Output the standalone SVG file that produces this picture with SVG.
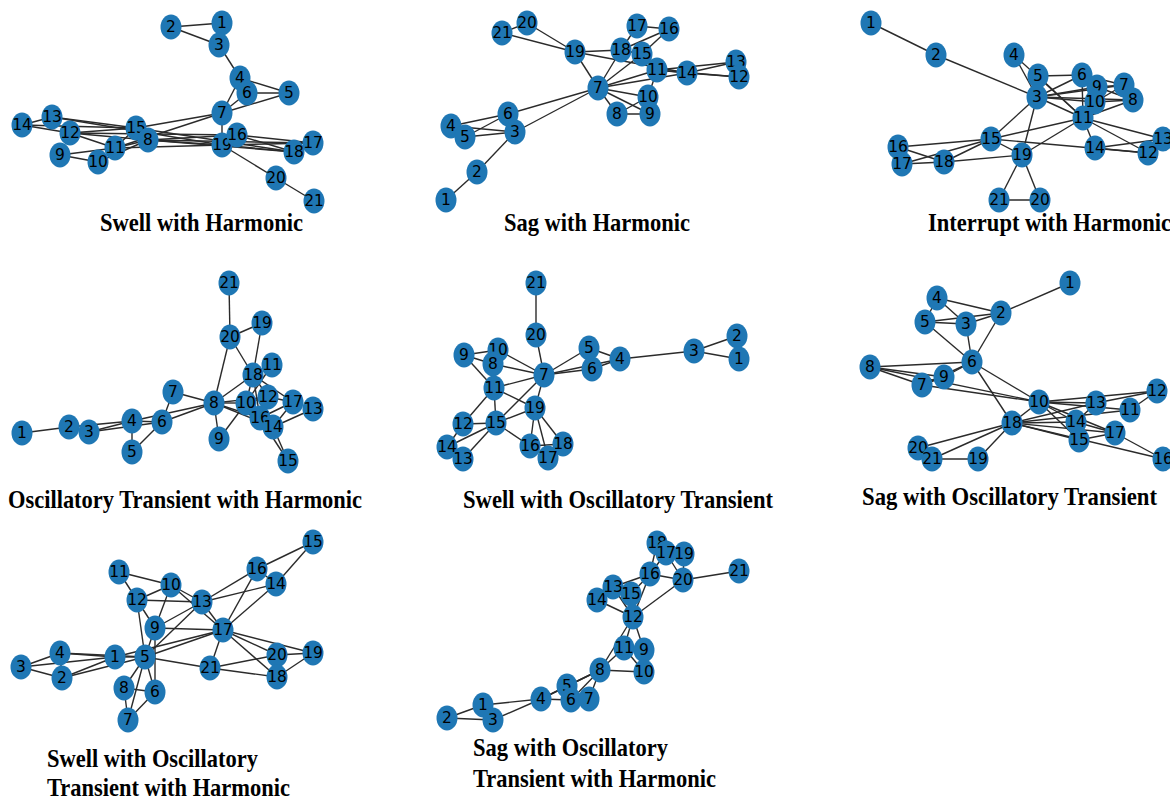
<svg xmlns="http://www.w3.org/2000/svg" width="1170" height="798" viewBox="0 0 1170 798">
<style>
  .edges line { stroke: #2b2b2b; stroke-width: 1.4; }
  .node ellipse { fill: #1f77b4; }
  .node text { font-family: "DejaVu Sans", sans-serif; font-size: 15.5px; fill: #000; text-anchor: middle; dominant-baseline: central; }
  .caption { font-family: "Liberation Serif", "Times New Roman", serif; font-weight: bold; font-size: 26px; fill: #000; }
</style>
<rect width="1170" height="798" fill="#fff"/>

<!-- ===== Swell with Harmonic ===== -->
<g id="swell-harmonic">
<g class="edges">
<line x1="222" y1="23" x2="171" y2="27"/><line x1="171" y1="27" x2="219" y2="45"/><line x1="222" y1="23" x2="219" y2="45"/>
<line x1="219" y1="45" x2="240" y2="78"/><line x1="240" y1="78" x2="289" y2="93"/><line x1="240" y1="78" x2="247" y2="93"/>
<line x1="247" y1="93" x2="289" y2="93"/><line x1="240" y1="78" x2="222" y2="113"/><line x1="247" y1="93" x2="222" y2="113"/>
<line x1="289" y1="93" x2="222" y2="113"/><line x1="222" y1="113" x2="136" y2="128"/><line x1="222" y1="113" x2="115" y2="148"/>
<line x1="222" y1="113" x2="222" y2="145"/><line x1="22" y1="125" x2="52" y2="117"/><line x1="22" y1="125" x2="70" y2="133"/>
<line x1="22" y1="125" x2="136" y2="128"/><line x1="52" y1="117" x2="136" y2="128"/><line x1="52" y1="117" x2="222" y2="145"/>
<line x1="70" y1="133" x2="237" y2="135"/><line x1="70" y1="133" x2="148" y2="140"/><line x1="70" y1="133" x2="115" y2="148"/>
<line x1="70" y1="133" x2="136" y2="128"/><line x1="60" y1="155" x2="115" y2="148"/><line x1="60" y1="155" x2="98" y2="162"/>
<line x1="98" y1="162" x2="148" y2="140"/><line x1="115" y1="148" x2="136" y2="128"/><line x1="115" y1="148" x2="148" y2="140"/>
<line x1="115" y1="148" x2="222" y2="145"/><line x1="136" y1="128" x2="148" y2="140"/><line x1="136" y1="128" x2="294" y2="152"/>
<line x1="148" y1="140" x2="222" y2="145"/><line x1="148" y1="140" x2="237" y2="135"/><line x1="148" y1="140" x2="313" y2="143"/>
<line x1="148" y1="140" x2="294" y2="152"/><line x1="237" y1="135" x2="313" y2="143"/><line x1="237" y1="135" x2="294" y2="152"/>
<line x1="237" y1="135" x2="222" y2="145"/><line x1="222" y1="145" x2="294" y2="152"/><line x1="222" y1="145" x2="313" y2="143"/>
<line x1="222" y1="145" x2="276" y2="178"/><line x1="276" y1="178" x2="314" y2="201"/>
</g>
<g id="g1-n1" class="node"><ellipse cx="222" cy="23" rx="10.5" ry="12.5"/><text x="222" y="23">1</text></g>
<g id="g1-n2" class="node"><ellipse cx="171" cy="27" rx="10.5" ry="12.5"/><text x="171" y="27">2</text></g>
<g id="g1-n3" class="node"><ellipse cx="219" cy="45" rx="10.5" ry="12.5"/><text x="219" y="45">3</text></g>
<g id="g1-n4" class="node"><ellipse cx="240" cy="78" rx="10.5" ry="12.5"/><text x="240" y="78">4</text></g>
<g id="g1-n5" class="node"><ellipse cx="289" cy="93" rx="10.5" ry="12.5"/><text x="289" y="93">5</text></g>
<g id="g1-n6" class="node"><ellipse cx="247" cy="93" rx="10.5" ry="12.5"/><text x="247" y="93">6</text></g>
<g id="g1-n7" class="node"><ellipse cx="222" cy="113" rx="10.5" ry="12.5"/><text x="222" y="113">7</text></g>
<g id="g1-n9" class="node"><ellipse cx="60" cy="155" rx="10.5" ry="12.5"/><text x="60" y="155">9</text></g>
<g id="g1-n10" class="node"><ellipse cx="98" cy="162" rx="10.5" ry="12.5"/><text x="98" y="162">10</text></g>
<g id="g1-n11" class="node"><ellipse cx="115" cy="148" rx="10.5" ry="12.5"/><text x="115" y="148">11</text></g>
<g id="g1-n13" class="node"><ellipse cx="52" cy="117" rx="10.5" ry="12.5"/><text x="52" y="117">13</text></g>
<g id="g1-n14" class="node"><ellipse cx="22" cy="125" rx="10.5" ry="12.5"/><text x="22" y="125">14</text></g>
<g id="g1-n12" class="node"><ellipse cx="70" cy="133" rx="10.5" ry="12.5"/><text x="70" y="133">12</text></g>
<g id="g1-n15" class="node"><ellipse cx="136" cy="128" rx="10.5" ry="12.5"/><text x="136" y="128">15</text></g>
<g id="g1-n8" class="node"><ellipse cx="148" cy="140" rx="10.5" ry="12.5"/><text x="148" y="140">8</text></g>
<g id="g1-n17" class="node"><ellipse cx="313" cy="143" rx="10.5" ry="12.5"/><text x="313" y="143">17</text></g>
<g id="g1-n18" class="node"><ellipse cx="294" cy="152" rx="10.5" ry="12.5"/><text x="294" y="152">18</text></g>
<g id="g1-n19" class="node"><ellipse cx="222" cy="145" rx="10.5" ry="12.5"/><text x="222" y="145">19</text></g>
<g id="g1-n16" class="node"><ellipse cx="237" cy="135" rx="10.5" ry="12.5"/><text x="237" y="135">16</text></g>
<g id="g1-n20" class="node"><ellipse cx="276" cy="178" rx="10.5" ry="12.5"/><text x="276" y="178">20</text></g>
<g id="g1-n21" class="node"><ellipse cx="314" cy="201" rx="10.5" ry="12.5"/><text x="314" y="201">21</text></g>
<text class="caption" x="100" y="231" textLength="203" lengthAdjust="spacingAndGlyphs">Swell with Harmonic</text>
</g>

<!-- ===== Sag with Harmonic ===== -->
<g id="sag-harmonic">
<g class="edges">
<line x1="446" y1="200" x2="477" y2="172"/><line x1="477" y1="172" x2="515" y2="132"/><line x1="515" y1="132" x2="508" y2="114"/>
<line x1="515" y1="132" x2="451" y2="126"/><line x1="515" y1="132" x2="465" y2="137"/><line x1="451" y1="126" x2="508" y2="114"/>
<line x1="465" y1="137" x2="508" y2="114"/><line x1="508" y1="114" x2="598" y2="88"/><line x1="515" y1="132" x2="598" y2="88"/>
<line x1="598" y1="88" x2="575" y2="52"/><line x1="598" y1="88" x2="621" y2="50"/><line x1="598" y1="88" x2="642" y2="54"/>
<line x1="598" y1="88" x2="657" y2="70"/><line x1="598" y1="88" x2="687" y2="73"/><line x1="598" y1="88" x2="648" y2="97"/>
<line x1="598" y1="88" x2="650" y2="114"/><line x1="598" y1="88" x2="617" y2="114"/><line x1="617" y1="114" x2="650" y2="114"/>
<line x1="617" y1="114" x2="648" y2="97"/><line x1="648" y1="97" x2="657" y2="70"/><line x1="575" y1="52" x2="527" y2="23"/>
<line x1="575" y1="52" x2="502" y2="33"/><line x1="527" y1="23" x2="502" y2="33"/><line x1="575" y1="52" x2="621" y2="50"/>
<line x1="575" y1="52" x2="687" y2="73"/><line x1="621" y1="50" x2="637" y2="26"/><line x1="621" y1="50" x2="669" y2="29"/>
<line x1="621" y1="50" x2="642" y2="54"/><line x1="637" y1="26" x2="669" y2="29"/><line x1="642" y1="54" x2="669" y2="29"/>
<line x1="642" y1="54" x2="657" y2="70"/><line x1="657" y1="70" x2="687" y2="73"/><line x1="687" y1="73" x2="736" y2="62"/>
<line x1="687" y1="73" x2="739" y2="77"/><line x1="657" y1="70" x2="736" y2="62"/><line x1="657" y1="70" x2="739" y2="77"/>
<line x1="736" y1="62" x2="739" y2="77"/>
</g>
<g id="g2-n1" class="node"><ellipse cx="446" cy="200" rx="10.5" ry="12.5"/><text x="446" y="200">1</text></g>
<g id="g2-n2" class="node"><ellipse cx="477" cy="172" rx="10.5" ry="12.5"/><text x="477" y="172">2</text></g>
<g id="g2-n4" class="node"><ellipse cx="451" cy="126" rx="10.5" ry="12.5"/><text x="451" y="126">4</text></g>
<g id="g2-n5" class="node"><ellipse cx="465" cy="137" rx="10.5" ry="12.5"/><text x="465" y="137">5</text></g>
<g id="g2-n6" class="node"><ellipse cx="508" cy="114" rx="10.5" ry="12.5"/><text x="508" y="114">6</text></g>
<g id="g2-n3" class="node"><ellipse cx="515" cy="132" rx="10.5" ry="12.5"/><text x="515" y="132">3</text></g>
<g id="g2-n7" class="node"><ellipse cx="598" cy="88" rx="10.5" ry="12.5"/><text x="598" y="88">7</text></g>
<g id="g2-n8" class="node"><ellipse cx="617" cy="114" rx="10.5" ry="12.5"/><text x="617" y="114">8</text></g>
<g id="g2-n10" class="node"><ellipse cx="648" cy="97" rx="10.5" ry="12.5"/><text x="648" y="97">10</text></g>
<g id="g2-n9" class="node"><ellipse cx="650" cy="114" rx="10.5" ry="12.5"/><text x="650" y="114">9</text></g>
<g id="g2-n20" class="node"><ellipse cx="527" cy="23" rx="10.5" ry="12.5"/><text x="527" y="23">20</text></g>
<g id="g2-n21" class="node"><ellipse cx="502" cy="33" rx="10.5" ry="12.5"/><text x="502" y="33">21</text></g>
<g id="g2-n19" class="node"><ellipse cx="575" cy="52" rx="10.5" ry="12.5"/><text x="575" y="52">19</text></g>
<g id="g2-n17" class="node"><ellipse cx="637" cy="26" rx="10.5" ry="12.5"/><text x="637" y="26">17</text></g>
<g id="g2-n16" class="node"><ellipse cx="669" cy="29" rx="10.5" ry="12.5"/><text x="669" y="29">16</text></g>
<g id="g2-n18" class="node"><ellipse cx="621" cy="50" rx="10.5" ry="12.5"/><text x="621" y="50">18</text></g>
<g id="g2-n15" class="node"><ellipse cx="642" cy="54" rx="10.5" ry="12.5"/><text x="642" y="54">15</text></g>
<g id="g2-n11" class="node"><ellipse cx="657" cy="70" rx="10.5" ry="12.5"/><text x="657" y="70">11</text></g>
<g id="g2-n14" class="node"><ellipse cx="687" cy="73" rx="10.5" ry="12.5"/><text x="687" y="73">14</text></g>
<g id="g2-n13" class="node"><ellipse cx="736" cy="62" rx="10.5" ry="12.5"/><text x="736" y="62">13</text></g>
<g id="g2-n12" class="node"><ellipse cx="739" cy="77" rx="10.5" ry="12.5"/><text x="739" y="77">12</text></g>
<text class="caption" x="504" y="231" textLength="186" lengthAdjust="spacingAndGlyphs">Sag with Harmonic</text>
</g>

<!-- ===== Interrupt with Harmonic ===== -->
<g id="interrupt-harmonic">
<g class="edges">
<line x1="871" y1="23" x2="936" y2="55"/><line x1="936" y1="55" x2="1037" y2="97"/><line x1="1014" y1="55" x2="1037" y2="97"/>
<line x1="1014" y1="55" x2="1083" y2="118"/><line x1="1038" y1="76" x2="1037" y2="97"/><line x1="1038" y1="76" x2="1082" y2="75"/>
<line x1="1038" y1="76" x2="1083" y2="118"/><line x1="1037" y1="97" x2="1082" y2="75"/><line x1="1037" y1="97" x2="1097" y2="87"/>
<line x1="1037" y1="97" x2="1124" y2="85"/><line x1="1037" y1="97" x2="1095" y2="102"/><line x1="1037" y1="97" x2="1133" y2="100"/>
<line x1="1037" y1="97" x2="1083" y2="118"/><line x1="1037" y1="97" x2="991" y2="139"/><line x1="1037" y1="97" x2="1022" y2="155"/>
<line x1="1082" y1="75" x2="1097" y2="87"/><line x1="1082" y1="75" x2="1124" y2="85"/><line x1="1082" y1="75" x2="1083" y2="118"/>
<line x1="1097" y1="87" x2="1124" y2="85"/><line x1="1097" y1="87" x2="1133" y2="100"/><line x1="1095" y1="102" x2="1124" y2="85"/>
<line x1="1095" y1="102" x2="1133" y2="100"/><line x1="1083" y1="118" x2="1133" y2="100"/><line x1="1083" y1="118" x2="991" y2="139"/>
<line x1="1083" y1="118" x2="1022" y2="155"/><line x1="1083" y1="118" x2="1095" y2="148"/><line x1="1083" y1="118" x2="1163" y2="139"/>
<line x1="1083" y1="118" x2="1148" y2="153"/><line x1="991" y1="139" x2="898" y2="147"/><line x1="991" y1="139" x2="902" y2="164"/>
<line x1="991" y1="139" x2="944" y2="162"/><line x1="991" y1="139" x2="1022" y2="155"/><line x1="991" y1="139" x2="1148" y2="153"/>
<line x1="1095" y1="148" x2="1163" y2="139"/><line x1="1095" y1="148" x2="1148" y2="153"/><line x1="898" y1="147" x2="944" y2="162"/>
<line x1="902" y1="164" x2="944" y2="162"/><line x1="944" y1="162" x2="1022" y2="155"/><line x1="1022" y1="155" x2="999" y2="200"/>
<line x1="1022" y1="155" x2="1040" y2="200"/><line x1="999" y1="200" x2="1040" y2="200"/>
</g>
<g id="g3-n1" class="node"><ellipse cx="871" cy="23" rx="10.5" ry="12.5"/><text x="871" y="23">1</text></g>
<g id="g3-n2" class="node"><ellipse cx="936" cy="55" rx="10.5" ry="12.5"/><text x="936" y="55">2</text></g>
<g id="g3-n4" class="node"><ellipse cx="1014" cy="55" rx="10.5" ry="12.5"/><text x="1014" y="55">4</text></g>
<g id="g3-n5" class="node"><ellipse cx="1038" cy="76" rx="10.5" ry="12.5"/><text x="1038" y="76">5</text></g>
<g id="g3-n3" class="node"><ellipse cx="1037" cy="97" rx="10.5" ry="12.5"/><text x="1037" y="97">3</text></g>
<g id="g3-n6" class="node"><ellipse cx="1082" cy="75" rx="10.5" ry="12.5"/><text x="1082" y="75">6</text></g>
<g id="g3-n7" class="node"><ellipse cx="1124" cy="85" rx="10.5" ry="12.5"/><text x="1124" y="85">7</text></g>
<g id="g3-n8" class="node"><ellipse cx="1133" cy="100" rx="10.5" ry="12.5"/><text x="1133" y="100">8</text></g>
<g id="g3-n9" class="node"><ellipse cx="1097" cy="87" rx="10.5" ry="12.5"/><text x="1097" y="87">9</text></g>
<g id="g3-n10" class="node"><ellipse cx="1095" cy="102" rx="10.5" ry="12.5"/><text x="1095" y="102">10</text></g>
<g id="g3-n11" class="node"><ellipse cx="1083" cy="118" rx="10.5" ry="12.5"/><text x="1083" y="118">11</text></g>
<g id="g3-n15" class="node"><ellipse cx="991" cy="139" rx="10.5" ry="12.5"/><text x="991" y="139">15</text></g>
<g id="g3-n14" class="node"><ellipse cx="1095" cy="148" rx="10.5" ry="12.5"/><text x="1095" y="148">14</text></g>
<g id="g3-n13" class="node"><ellipse cx="1163" cy="139" rx="10.5" ry="12.5"/><text x="1163" y="139">13</text></g>
<g id="g3-n12" class="node"><ellipse cx="1148" cy="153" rx="10.5" ry="12.5"/><text x="1148" y="153">12</text></g>
<g id="g3-n16" class="node"><ellipse cx="898" cy="147" rx="10.5" ry="12.5"/><text x="898" y="147">16</text></g>
<g id="g3-n17" class="node"><ellipse cx="902" cy="164" rx="10.5" ry="12.5"/><text x="902" y="164">17</text></g>
<g id="g3-n18" class="node"><ellipse cx="944" cy="162" rx="10.5" ry="12.5"/><text x="944" y="162">18</text></g>
<g id="g3-n19" class="node"><ellipse cx="1022" cy="155" rx="10.5" ry="12.5"/><text x="1022" y="155">19</text></g>
<g id="g3-n21" class="node"><ellipse cx="999" cy="200" rx="10.5" ry="12.5"/><text x="999" y="200">21</text></g>
<g id="g3-n20" class="node"><ellipse cx="1040" cy="200" rx="10.5" ry="12.5"/><text x="1040" y="200">20</text></g>
<text class="caption" x="928" y="231" textLength="243" lengthAdjust="spacingAndGlyphs">Interrupt with Harmonic</text>
</g>

<!-- ===== Oscillatory Transient with Harmonic ===== -->
<g id="osc-harmonic">
<g class="edges">
<line x1="22" y1="433" x2="69" y2="427"/><line x1="69" y1="427" x2="132" y2="421"/><line x1="89" y1="432" x2="132" y2="421"/>
<line x1="89" y1="432" x2="162" y2="422"/><line x1="132" y1="421" x2="132" y2="452"/><line x1="132" y1="421" x2="162" y2="422"/>
<line x1="132" y1="421" x2="214" y2="403"/><line x1="132" y1="452" x2="162" y2="422"/><line x1="162" y1="422" x2="173" y2="392"/>
<line x1="162" y1="422" x2="214" y2="403"/><line x1="173" y1="392" x2="214" y2="403"/><line x1="214" y1="403" x2="230" y2="337"/>
<line x1="214" y1="403" x2="253" y2="375"/><line x1="214" y1="403" x2="246" y2="403"/><line x1="214" y1="403" x2="260" y2="418"/>
<line x1="214" y1="403" x2="273" y2="427"/><line x1="214" y1="403" x2="219" y2="439"/><line x1="214" y1="403" x2="268" y2="397"/>
<line x1="219" y1="439" x2="246" y2="403"/><line x1="230" y1="337" x2="229" y2="283"/><line x1="230" y1="337" x2="262" y2="323"/>
<line x1="230" y1="337" x2="253" y2="375"/><line x1="262" y1="323" x2="253" y2="375"/><line x1="253" y1="375" x2="246" y2="403"/>
<line x1="253" y1="375" x2="268" y2="397"/><line x1="253" y1="375" x2="293" y2="402"/><line x1="253" y1="375" x2="260" y2="418"/>
<line x1="272" y1="365" x2="246" y2="403"/><line x1="246" y1="403" x2="268" y2="397"/><line x1="246" y1="403" x2="260" y2="418"/>
<line x1="268" y1="397" x2="293" y2="402"/><line x1="268" y1="397" x2="260" y2="418"/><line x1="293" y1="402" x2="273" y2="427"/>
<line x1="293" y1="402" x2="260" y2="418"/><line x1="313" y1="409" x2="273" y2="427"/><line x1="273" y1="427" x2="288" y2="461"/>
<line x1="260" y1="418" x2="288" y2="461"/>
</g>
<g id="g4-n1" class="node"><ellipse cx="22" cy="433" rx="10.5" ry="12.5"/><text x="22" y="433">1</text></g>
<g id="g4-n2" class="node"><ellipse cx="69" cy="427" rx="10.5" ry="12.5"/><text x="69" y="427">2</text></g>
<g id="g4-n3" class="node"><ellipse cx="89" cy="432" rx="10.5" ry="12.5"/><text x="89" y="432">3</text></g>
<g id="g4-n4" class="node"><ellipse cx="132" cy="421" rx="10.5" ry="12.5"/><text x="132" y="421">4</text></g>
<g id="g4-n5" class="node"><ellipse cx="132" cy="452" rx="10.5" ry="12.5"/><text x="132" y="452">5</text></g>
<g id="g4-n6" class="node"><ellipse cx="162" cy="422" rx="10.5" ry="12.5"/><text x="162" y="422">6</text></g>
<g id="g4-n7" class="node"><ellipse cx="173" cy="392" rx="10.5" ry="12.5"/><text x="173" y="392">7</text></g>
<g id="g4-n8" class="node"><ellipse cx="214" cy="403" rx="10.5" ry="12.5"/><text x="214" y="403">8</text></g>
<g id="g4-n9" class="node"><ellipse cx="219" cy="439" rx="10.5" ry="12.5"/><text x="219" y="439">9</text></g>
<g id="g4-n21" class="node"><ellipse cx="229" cy="283" rx="10.5" ry="12.5"/><text x="229" y="283">21</text></g>
<g id="g4-n20" class="node"><ellipse cx="230" cy="337" rx="10.5" ry="12.5"/><text x="230" y="337">20</text></g>
<g id="g4-n19" class="node"><ellipse cx="262" cy="323" rx="10.5" ry="12.5"/><text x="262" y="323">19</text></g>
<g id="g4-n11" class="node"><ellipse cx="272" cy="365" rx="10.5" ry="12.5"/><text x="272" y="365">11</text></g>
<g id="g4-n18" class="node"><ellipse cx="253" cy="375" rx="10.5" ry="12.5"/><text x="253" y="375">18</text></g>
<g id="g4-n13" class="node"><ellipse cx="313" cy="409" rx="10.5" ry="12.5"/><text x="313" y="409">13</text></g>
<g id="g4-n17" class="node"><ellipse cx="293" cy="402" rx="10.5" ry="12.5"/><text x="293" y="402">17</text></g>
<g id="g4-n12" class="node"><ellipse cx="268" cy="397" rx="10.5" ry="12.5"/><text x="268" y="397">12</text></g>
<g id="g4-n10" class="node"><ellipse cx="246" cy="403" rx="10.5" ry="12.5"/><text x="246" y="403">10</text></g>
<g id="g4-n16" class="node"><ellipse cx="260" cy="418" rx="10.5" ry="12.5"/><text x="260" y="418">16</text></g>
<g id="g4-n14" class="node"><ellipse cx="273" cy="427" rx="10.5" ry="12.5"/><text x="273" y="427">14</text></g>
<g id="g4-n15" class="node"><ellipse cx="288" cy="461" rx="10.5" ry="12.5"/><text x="288" y="461">15</text></g>
<text class="caption" x="8" y="508" textLength="354" lengthAdjust="spacingAndGlyphs">Oscillatory Transient with Harmonic</text>
</g>

<!-- ===== Swell with Oscillatory Transient ===== -->
<g id="swell-osc">
<g class="edges">
<line x1="536" y1="283" x2="536" y2="335"/><line x1="536" y1="335" x2="544" y2="375"/><line x1="544" y1="375" x2="589" y2="348"/>
<line x1="544" y1="375" x2="592" y2="369"/><line x1="544" y1="375" x2="620" y2="359"/><line x1="589" y1="348" x2="620" y2="359"/>
<line x1="592" y1="369" x2="620" y2="359"/><line x1="620" y1="359" x2="694" y2="351"/><line x1="694" y1="351" x2="737" y2="336"/>
<line x1="694" y1="351" x2="739" y2="359"/><line x1="464" y1="355" x2="498" y2="350"/><line x1="464" y1="355" x2="493" y2="364"/>
<line x1="464" y1="355" x2="494" y2="388"/><line x1="498" y1="350" x2="544" y2="375"/><line x1="493" y1="364" x2="544" y2="375"/>
<line x1="494" y1="388" x2="544" y2="375"/><line x1="494" y1="388" x2="535" y2="408"/><line x1="494" y1="388" x2="496" y2="423"/>
<line x1="494" y1="388" x2="463" y2="424"/><line x1="544" y1="375" x2="496" y2="423"/><line x1="544" y1="375" x2="535" y2="408"/>
<line x1="496" y1="423" x2="535" y2="408"/><line x1="463" y1="424" x2="496" y2="423"/><line x1="463" y1="424" x2="447" y2="447"/>
<line x1="447" y1="447" x2="496" y2="423"/><line x1="463" y1="459" x2="496" y2="423"/><line x1="447" y1="447" x2="463" y2="459"/>
<line x1="496" y1="423" x2="530" y2="446"/><line x1="535" y1="408" x2="530" y2="446"/><line x1="535" y1="408" x2="548" y2="458"/>
<line x1="535" y1="408" x2="563" y2="444"/><line x1="530" y1="446" x2="548" y2="458"/><line x1="548" y1="458" x2="563" y2="444"/>
<line x1="530" y1="446" x2="563" y2="444"/>
</g>
<g id="g5-n21" class="node"><ellipse cx="536" cy="283" rx="10.5" ry="12.5"/><text x="536" y="283">21</text></g>
<g id="g5-n20" class="node"><ellipse cx="536" cy="335" rx="10.5" ry="12.5"/><text x="536" y="335">20</text></g>
<g id="g5-n2" class="node"><ellipse cx="737" cy="336" rx="10.5" ry="12.5"/><text x="737" y="336">2</text></g>
<g id="g5-n1" class="node"><ellipse cx="739" cy="359" rx="10.5" ry="12.5"/><text x="739" y="359">1</text></g>
<g id="g5-n3" class="node"><ellipse cx="694" cy="351" rx="10.5" ry="12.5"/><text x="694" y="351">3</text></g>
<g id="g5-n5" class="node"><ellipse cx="589" cy="348" rx="10.5" ry="12.5"/><text x="589" y="348">5</text></g>
<g id="g5-n4" class="node"><ellipse cx="620" cy="359" rx="10.5" ry="12.5"/><text x="620" y="359">4</text></g>
<g id="g5-n6" class="node"><ellipse cx="592" cy="369" rx="10.5" ry="12.5"/><text x="592" y="369">6</text></g>
<g id="g5-n9" class="node"><ellipse cx="464" cy="355" rx="10.5" ry="12.5"/><text x="464" y="355">9</text></g>
<g id="g5-n10" class="node"><ellipse cx="498" cy="350" rx="10.5" ry="12.5"/><text x="498" y="350">10</text></g>
<g id="g5-n8" class="node"><ellipse cx="493" cy="364" rx="10.5" ry="12.5"/><text x="493" y="364">8</text></g>
<g id="g5-n7" class="node"><ellipse cx="544" cy="375" rx="10.5" ry="12.5"/><text x="544" y="375">7</text></g>
<g id="g5-n11" class="node"><ellipse cx="494" cy="388" rx="10.5" ry="12.5"/><text x="494" y="388">11</text></g>
<g id="g5-n19" class="node"><ellipse cx="535" cy="408" rx="10.5" ry="12.5"/><text x="535" y="408">19</text></g>
<g id="g5-n12" class="node"><ellipse cx="463" cy="424" rx="10.5" ry="12.5"/><text x="463" y="424">12</text></g>
<g id="g5-n15" class="node"><ellipse cx="496" cy="423" rx="10.5" ry="12.5"/><text x="496" y="423">15</text></g>
<g id="g5-n14" class="node"><ellipse cx="447" cy="447" rx="10.5" ry="12.5"/><text x="447" y="447">14</text></g>
<g id="g5-n13" class="node"><ellipse cx="463" cy="459" rx="10.5" ry="12.5"/><text x="463" y="459">13</text></g>
<g id="g5-n16" class="node"><ellipse cx="530" cy="446" rx="10.5" ry="12.5"/><text x="530" y="446">16</text></g>
<g id="g5-n18" class="node"><ellipse cx="563" cy="444" rx="10.5" ry="12.5"/><text x="563" y="444">18</text></g>
<g id="g5-n17" class="node"><ellipse cx="548" cy="458" rx="10.5" ry="12.5"/><text x="548" y="458">17</text></g>
<text class="caption" x="463" y="508" textLength="310" lengthAdjust="spacingAndGlyphs">Swell with Oscillatory Transient</text>
</g>

<!-- ===== Sag with Oscillatory Transient ===== -->
<g id="sag-osc">
<g class="edges">
<line x1="1070" y1="283" x2="1001" y2="313"/><line x1="937" y1="298" x2="1001" y2="313"/><line x1="937" y1="298" x2="966" y2="324"/>
<line x1="937" y1="298" x2="925" y2="322"/><line x1="925" y1="322" x2="966" y2="324"/><line x1="925" y1="322" x2="1001" y2="313"/>
<line x1="966" y1="324" x2="1001" y2="313"/><line x1="966" y1="324" x2="972" y2="362"/><line x1="1001" y1="313" x2="972" y2="362"/>
<line x1="925" y1="322" x2="972" y2="362"/><line x1="972" y1="362" x2="870" y2="367"/><line x1="972" y1="362" x2="944" y2="377"/>
<line x1="972" y1="362" x2="922" y2="385"/><line x1="972" y1="362" x2="1039" y2="402"/><line x1="972" y1="362" x2="1012" y2="423"/>
<line x1="870" y1="367" x2="922" y2="385"/><line x1="870" y1="367" x2="944" y2="377"/><line x1="870" y1="367" x2="1039" y2="402"/>
<line x1="944" y1="377" x2="922" y2="385"/><line x1="922" y1="385" x2="1039" y2="402"/><line x1="1039" y1="402" x2="1157" y2="391"/>
<line x1="1039" y1="402" x2="1096" y2="403"/><line x1="1039" y1="402" x2="1130" y2="410"/><line x1="1039" y1="402" x2="1076" y2="422"/>
<line x1="1039" y1="402" x2="1079" y2="440"/><line x1="1039" y1="402" x2="1115" y2="433"/><line x1="1039" y1="402" x2="1012" y2="423"/>
<line x1="1012" y1="423" x2="1096" y2="403"/><line x1="1012" y1="423" x2="1076" y2="422"/><line x1="1012" y1="423" x2="1079" y2="440"/>
<line x1="1012" y1="423" x2="1115" y2="433"/><line x1="1012" y1="423" x2="1163" y2="459"/><line x1="1012" y1="423" x2="1130" y2="410"/>
<line x1="1012" y1="423" x2="918" y2="448"/><line x1="1012" y1="423" x2="932" y2="459"/><line x1="1012" y1="423" x2="978" y2="459"/>
<line x1="1096" y1="403" x2="1157" y2="391"/><line x1="1096" y1="403" x2="1076" y2="422"/><line x1="1130" y1="410" x2="1157" y2="391"/>
<line x1="1076" y1="422" x2="1115" y2="433"/><line x1="1079" y1="440" x2="1115" y2="433"/><line x1="1115" y1="433" x2="1163" y2="459"/>
<line x1="918" y1="448" x2="932" y2="459"/><line x1="932" y1="459" x2="978" y2="459"/>
</g>
<g id="g6-n1" class="node"><ellipse cx="1070" cy="283" rx="10.5" ry="12.5"/><text x="1070" y="283">1</text></g>
<g id="g6-n4" class="node"><ellipse cx="937" cy="298" rx="10.5" ry="12.5"/><text x="937" y="298">4</text></g>
<g id="g6-n2" class="node"><ellipse cx="1001" cy="313" rx="10.5" ry="12.5"/><text x="1001" y="313">2</text></g>
<g id="g6-n5" class="node"><ellipse cx="925" cy="322" rx="10.5" ry="12.5"/><text x="925" y="322">5</text></g>
<g id="g6-n3" class="node"><ellipse cx="966" cy="324" rx="10.5" ry="12.5"/><text x="966" y="324">3</text></g>
<g id="g6-n6" class="node"><ellipse cx="972" cy="362" rx="10.5" ry="12.5"/><text x="972" y="362">6</text></g>
<g id="g6-n8" class="node"><ellipse cx="870" cy="367" rx="10.5" ry="12.5"/><text x="870" y="367">8</text></g>
<g id="g6-n7" class="node"><ellipse cx="922" cy="385" rx="10.5" ry="12.5"/><text x="922" y="385">7</text></g>
<g id="g6-n9" class="node"><ellipse cx="944" cy="377" rx="10.5" ry="12.5"/><text x="944" y="377">9</text></g>
<g id="g6-n12" class="node"><ellipse cx="1157" cy="391" rx="10.5" ry="12.5"/><text x="1157" y="391">12</text></g>
<g id="g6-n10" class="node"><ellipse cx="1039" cy="402" rx="10.5" ry="12.5"/><text x="1039" y="402">10</text></g>
<g id="g6-n11" class="node"><ellipse cx="1130" cy="410" rx="10.5" ry="12.5"/><text x="1130" y="410">11</text></g>
<g id="g6-n13" class="node"><ellipse cx="1096" cy="403" rx="10.5" ry="12.5"/><text x="1096" y="403">13</text></g>
<g id="g6-n18" class="node"><ellipse cx="1012" cy="423" rx="10.5" ry="12.5"/><text x="1012" y="423">18</text></g>
<g id="g6-n14" class="node"><ellipse cx="1076" cy="422" rx="10.5" ry="12.5"/><text x="1076" y="422">14</text></g>
<g id="g6-n15" class="node"><ellipse cx="1079" cy="440" rx="10.5" ry="12.5"/><text x="1079" y="440">15</text></g>
<g id="g6-n17" class="node"><ellipse cx="1115" cy="433" rx="10.5" ry="12.5"/><text x="1115" y="433">17</text></g>
<g id="g6-n16" class="node"><ellipse cx="1163" cy="459" rx="10.5" ry="12.5"/><text x="1163" y="459">16</text></g>
<g id="g6-n20" class="node"><ellipse cx="918" cy="448" rx="10.5" ry="12.5"/><text x="918" y="448">20</text></g>
<g id="g6-n21" class="node"><ellipse cx="932" cy="459" rx="10.5" ry="12.5"/><text x="932" y="459">21</text></g>
<g id="g6-n19" class="node"><ellipse cx="978" cy="459" rx="10.5" ry="12.5"/><text x="978" y="459">19</text></g>
<text class="caption" x="862" y="505" textLength="295" lengthAdjust="spacingAndGlyphs">Sag with Oscillatory Transient</text>
</g>

<!-- ===== Swell with Oscillatory Transient with Harmonic ===== -->
<g id="swell-osc-harmonic">
<g class="edges">
<line x1="313" y1="542" x2="257" y2="569"/><line x1="313" y1="542" x2="276" y2="584"/><line x1="257" y1="569" x2="276" y2="584"/>
<line x1="257" y1="569" x2="202" y2="602"/><line x1="257" y1="569" x2="223" y2="630"/><line x1="276" y1="584" x2="202" y2="602"/>
<line x1="276" y1="584" x2="223" y2="630"/><line x1="119" y1="572" x2="137" y2="600"/><line x1="119" y1="572" x2="171" y2="585"/>
<line x1="171" y1="585" x2="137" y2="600"/><line x1="171" y1="585" x2="202" y2="602"/><line x1="171" y1="585" x2="155" y2="628"/>
<line x1="171" y1="585" x2="223" y2="630"/><line x1="137" y1="600" x2="202" y2="602"/><line x1="137" y1="600" x2="155" y2="628"/>
<line x1="137" y1="600" x2="145" y2="657"/><line x1="202" y1="602" x2="155" y2="628"/><line x1="202" y1="602" x2="223" y2="630"/>
<line x1="202" y1="602" x2="145" y2="657"/><line x1="155" y1="628" x2="223" y2="630"/><line x1="155" y1="628" x2="145" y2="657"/>
<line x1="155" y1="628" x2="155" y2="692"/><line x1="223" y1="630" x2="145" y2="657"/><line x1="223" y1="630" x2="115" y2="657"/>
<line x1="223" y1="630" x2="210" y2="668"/><line x1="223" y1="630" x2="277" y2="655"/><line x1="223" y1="630" x2="313" y2="653"/>
<line x1="223" y1="630" x2="277" y2="677"/><line x1="60" y1="653" x2="21" y2="667"/><line x1="60" y1="653" x2="62" y2="678"/>
<line x1="60" y1="653" x2="115" y2="657"/><line x1="60" y1="653" x2="145" y2="657"/><line x1="21" y1="667" x2="62" y2="678"/>
<line x1="21" y1="667" x2="115" y2="657"/><line x1="62" y1="678" x2="115" y2="657"/><line x1="62" y1="678" x2="145" y2="657"/>
<line x1="115" y1="657" x2="145" y2="657"/><line x1="145" y1="657" x2="210" y2="668"/><line x1="145" y1="657" x2="124" y2="688"/>
<line x1="145" y1="657" x2="155" y2="692"/><line x1="145" y1="657" x2="128" y2="720"/><line x1="124" y1="688" x2="155" y2="692"/>
<line x1="124" y1="688" x2="128" y2="720"/><line x1="155" y1="692" x2="128" y2="720"/><line x1="210" y1="668" x2="277" y2="655"/>
<line x1="210" y1="668" x2="277" y2="677"/><line x1="277" y1="655" x2="313" y2="653"/><line x1="277" y1="677" x2="313" y2="653"/>
</g>
<g id="g7-n15" class="node"><ellipse cx="313" cy="542" rx="10.5" ry="12.5"/><text x="313" y="542">15</text></g>
<g id="g7-n16" class="node"><ellipse cx="257" cy="569" rx="10.5" ry="12.5"/><text x="257" y="569">16</text></g>
<g id="g7-n14" class="node"><ellipse cx="276" cy="584" rx="10.5" ry="12.5"/><text x="276" y="584">14</text></g>
<g id="g7-n11" class="node"><ellipse cx="119" cy="572" rx="10.5" ry="12.5"/><text x="119" y="572">11</text></g>
<g id="g7-n10" class="node"><ellipse cx="171" cy="585" rx="10.5" ry="12.5"/><text x="171" y="585">10</text></g>
<g id="g7-n12" class="node"><ellipse cx="137" cy="600" rx="10.5" ry="12.5"/><text x="137" y="600">12</text></g>
<g id="g7-n13" class="node"><ellipse cx="202" cy="602" rx="10.5" ry="12.5"/><text x="202" y="602">13</text></g>
<g id="g7-n9" class="node"><ellipse cx="155" cy="628" rx="10.5" ry="12.5"/><text x="155" y="628">9</text></g>
<g id="g7-n17" class="node"><ellipse cx="223" cy="630" rx="10.5" ry="12.5"/><text x="223" y="630">17</text></g>
<g id="g7-n4" class="node"><ellipse cx="60" cy="653" rx="10.5" ry="12.5"/><text x="60" y="653">4</text></g>
<g id="g7-n3" class="node"><ellipse cx="21" cy="667" rx="10.5" ry="12.5"/><text x="21" y="667">3</text></g>
<g id="g7-n2" class="node"><ellipse cx="62" cy="678" rx="10.5" ry="12.5"/><text x="62" y="678">2</text></g>
<g id="g7-n1" class="node"><ellipse cx="115" cy="657" rx="10.5" ry="12.5"/><text x="115" y="657">1</text></g>
<g id="g7-n5" class="node"><ellipse cx="145" cy="657" rx="10.5" ry="12.5"/><text x="145" y="657">5</text></g>
<g id="g7-n21" class="node"><ellipse cx="210" cy="668" rx="10.5" ry="12.5"/><text x="210" y="668">21</text></g>
<g id="g7-n19" class="node"><ellipse cx="313" cy="653" rx="10.5" ry="12.5"/><text x="313" y="653">19</text></g>
<g id="g7-n20" class="node"><ellipse cx="277" cy="655" rx="10.5" ry="12.5"/><text x="277" y="655">20</text></g>
<g id="g7-n18" class="node"><ellipse cx="277" cy="677" rx="10.5" ry="12.5"/><text x="277" y="677">18</text></g>
<g id="g7-n8" class="node"><ellipse cx="124" cy="688" rx="10.5" ry="12.5"/><text x="124" y="688">8</text></g>
<g id="g7-n6" class="node"><ellipse cx="155" cy="692" rx="10.5" ry="12.5"/><text x="155" y="692">6</text></g>
<g id="g7-n7" class="node"><ellipse cx="128" cy="720" rx="10.5" ry="12.5"/><text x="128" y="720">7</text></g>
<text class="caption" x="47" y="767" textLength="211" lengthAdjust="spacingAndGlyphs">Swell with Oscillatory</text>
<text class="caption" x="47" y="796" textLength="243" lengthAdjust="spacingAndGlyphs">Transient with Harmonic</text>
</g>

<!-- ===== Sag with Oscillatory Transient with Harmonic ===== -->
<g id="sag-osc-harmonic">
<g class="edges">
<line x1="657" y1="543" x2="666" y2="553"/><line x1="666" y1="553" x2="684" y2="554"/><line x1="657" y1="543" x2="650" y2="574"/>
<line x1="666" y1="553" x2="650" y2="574"/><line x1="666" y1="553" x2="683" y2="580"/><line x1="684" y1="554" x2="683" y2="580"/>
<line x1="650" y1="574" x2="683" y2="580"/><line x1="683" y1="580" x2="739" y2="571"/><line x1="650" y1="574" x2="613" y2="587"/>
<line x1="650" y1="574" x2="631" y2="594"/><line x1="650" y1="574" x2="633" y2="617"/><line x1="683" y1="580" x2="633" y2="617"/>
<line x1="613" y1="587" x2="631" y2="594"/><line x1="613" y1="587" x2="633" y2="617"/><line x1="597" y1="600" x2="633" y2="617"/>
<line x1="631" y1="594" x2="633" y2="617"/><line x1="633" y1="617" x2="624" y2="648"/><line x1="633" y1="617" x2="644" y2="650"/>
<line x1="633" y1="617" x2="600" y2="670"/><line x1="624" y1="648" x2="644" y2="650"/><line x1="624" y1="648" x2="600" y2="670"/>
<line x1="624" y1="648" x2="644" y2="672"/><line x1="644" y1="650" x2="644" y2="672"/><line x1="600" y1="670" x2="644" y2="672"/>
<line x1="600" y1="670" x2="567" y2="686"/><line x1="600" y1="670" x2="541" y2="699"/><line x1="600" y1="670" x2="571" y2="700"/>
<line x1="600" y1="670" x2="589" y2="699"/><line x1="567" y1="686" x2="541" y2="699"/><line x1="567" y1="686" x2="571" y2="700"/>
<line x1="541" y1="699" x2="571" y2="700"/><line x1="541" y1="699" x2="483" y2="705"/><line x1="541" y1="699" x2="493" y2="720"/>
<line x1="483" y1="705" x2="447" y2="718"/><line x1="483" y1="705" x2="493" y2="720"/><line x1="447" y1="718" x2="493" y2="720"/>
</g>
<g id="g8-n18" class="node"><ellipse cx="657" cy="543" rx="10.5" ry="12.5"/><text x="657" y="543">18</text></g>
<g id="g8-n19" class="node"><ellipse cx="684" cy="554" rx="10.5" ry="12.5"/><text x="684" y="554">19</text></g>
<g id="g8-n17" class="node"><ellipse cx="666" cy="553" rx="10.5" ry="12.5"/><text x="666" y="553">17</text></g>
<g id="g8-n16" class="node"><ellipse cx="650" cy="574" rx="10.5" ry="12.5"/><text x="650" y="574">16</text></g>
<g id="g8-n20" class="node"><ellipse cx="683" cy="580" rx="10.5" ry="12.5"/><text x="683" y="580">20</text></g>
<g id="g8-n21" class="node"><ellipse cx="739" cy="571" rx="10.5" ry="12.5"/><text x="739" y="571">21</text></g>
<g id="g8-n14" class="node"><ellipse cx="597" cy="600" rx="10.5" ry="12.5"/><text x="597" y="600">14</text></g>
<g id="g8-n13" class="node"><ellipse cx="613" cy="587" rx="10.5" ry="12.5"/><text x="613" y="587">13</text></g>
<g id="g8-n15" class="node"><ellipse cx="631" cy="594" rx="10.5" ry="12.5"/><text x="631" y="594">15</text></g>
<g id="g8-n12" class="node"><ellipse cx="633" cy="617" rx="10.5" ry="12.5"/><text x="633" y="617">12</text></g>
<g id="g8-n11" class="node"><ellipse cx="624" cy="648" rx="10.5" ry="12.5"/><text x="624" y="648">11</text></g>
<g id="g8-n9" class="node"><ellipse cx="644" cy="650" rx="10.5" ry="12.5"/><text x="644" y="650">9</text></g>
<g id="g8-n10" class="node"><ellipse cx="644" cy="672" rx="10.5" ry="12.5"/><text x="644" y="672">10</text></g>
<g id="g8-n8" class="node"><ellipse cx="600" cy="670" rx="10.5" ry="12.5"/><text x="600" y="670">8</text></g>
<g id="g8-n5" class="node"><ellipse cx="567" cy="686" rx="10.5" ry="12.5"/><text x="567" y="686">5</text></g>
<g id="g8-n4" class="node"><ellipse cx="541" cy="699" rx="10.5" ry="12.5"/><text x="541" y="699">4</text></g>
<g id="g8-n6" class="node"><ellipse cx="571" cy="700" rx="10.5" ry="12.5"/><text x="571" y="700">6</text></g>
<g id="g8-n7" class="node"><ellipse cx="589" cy="699" rx="10.5" ry="12.5"/><text x="589" y="699">7</text></g>
<g id="g8-n2" class="node"><ellipse cx="447" cy="718" rx="10.5" ry="12.5"/><text x="447" y="718">2</text></g>
<g id="g8-n1" class="node"><ellipse cx="483" cy="705" rx="10.5" ry="12.5"/><text x="483" y="705">1</text></g>
<g id="g8-n3" class="node"><ellipse cx="493" cy="720" rx="10.5" ry="12.5"/><text x="493" y="720">3</text></g>
<text class="caption" x="473" y="756" textLength="195" lengthAdjust="spacingAndGlyphs">Sag with Oscillatory</text>
<text class="caption" x="473" y="787" textLength="243" lengthAdjust="spacingAndGlyphs">Transient with Harmonic</text>
</g>
</svg>
